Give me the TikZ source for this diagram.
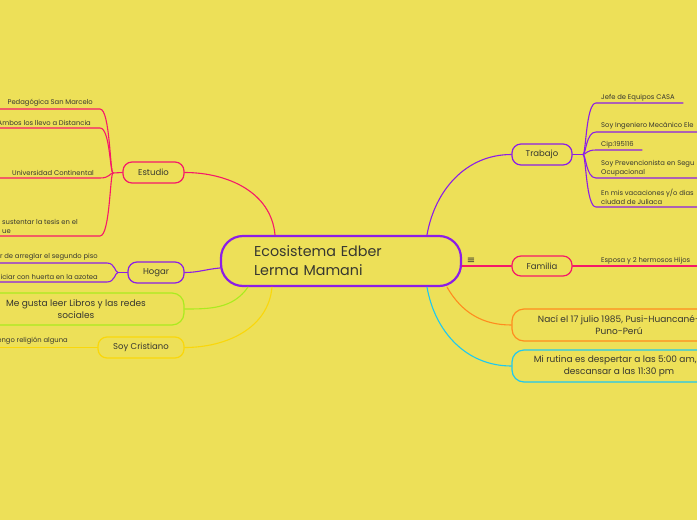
\documentclass[tikz,border=0pt]{standalone}
\usepackage{fontspec}
\setmainfont{Poppins}
\newfontfamily\symfont{DejaVu Sans}
\definecolor{mapbg}{RGB}{237,224,88}
\definecolor{maptext}{RGB}{55,55,48}
\definecolor{mappurple}{RGB}{140,30,230}
\definecolor{mappink}{RGB}{245,25,105}
\definecolor{maplime}{RGB}{170,235,30}
\definecolor{mapgold}{RGB}{250,215,10}
\definecolor{maporange}{RGB}{255,140,30}
\definecolor{mapcyan}{RGB}{30,200,240}

\tikzset{
  topic/.style={draw, rounded corners=9pt, line width=1.2pt, align=center, inner sep=0pt,
    text=maptext, font=\fontsize{8.5}{11}\selectfont},
  leaf/.style={inner sep=1pt, text=maptext, font=\fontsize{6.8}{9}\selectfont, align=left},
  link/.style={line width=1.1pt},
}

\begin{document}
\begin{tikzpicture}[x=1pt, y=-1pt, line cap=round, line join=round]
\useasboundingbox (0,0) rectangle (697,520);
\fill[mapbg] (0,0) rectangle (697,520);
\clip (0,0) rectangle (697,520);

% ---------- central topic ----------
\node[topic, draw=mappurple, line width=2.2pt, rounded corners=22pt, minimum height=50pt,
  text width=174pt, inner xsep=33pt, align=left, font=\fontsize{14.3}{19}\selectfont]
  (eco) at (341,261) {Ecosistema Edber\\Lerma Mamani};
\node[text=maptext, font=\symfont\fontsize{10}{10}\selectfont, inner sep=0pt] (notes) at (471,261) {≡};

% ---------- Estudio ----------
\node[topic, draw=mappink, minimum width=61pt, minimum height=21pt] (estudio) at (153.5,172.5) {Estudio};
\draw[link, mappink] ([xshift=-66pt]eco.north) to[out=95,in=0] (estudio.east);
\coordinate (estj) at (113,173);
\draw[link, mappink] (estudio.west) -- (estj);
\foreach \y in {109,128,178,236}
  \draw[link, mappink] (estj) .. controls (110,173) and (110,\y) .. (100,\y) -- (-5,\y);
\node[leaf, anchor=south east] (est1) at (94,108) {Pedagógica San Marcelo};
\node[leaf, anchor=south east] (est2) at (92,127) {Ambos los llevo a Distancia};
\node[leaf, anchor=south east] (est3) at (95,177) {Universidad Continental};
\node[leaf, anchor=south west] (est4) at (1,235) {sustentar la tesis en el\\ue};

% ---------- Hogar ----------
\node[topic, draw=mappurple, minimum width=56pt, minimum height=21pt] (hogar) at (156,272.5) {Hogar};
\draw[link, mappurple] ([yshift=-7pt]eco.west) to[out=185,in=0] (hogar.east);
\coordinate (hogj) at (118,272.5);
\draw[link, mappurple] (hogar.west) -- (hogj);
\foreach \y in {263,282}
  \draw[link, mappurple] (hogj) .. controls (115,272.5) and (115,\y) .. (107,\y) -- (-5,\y);
\node[leaf, anchor=south east] (hog1) at (99,262) {r de arreglar el segundo piso};
\node[leaf, anchor=south east] (hog2) at (99,281) {niciar con huerta en la azotea};

% ---------- lectura ----------
\node[topic, draw=maplime, minimum width=216pt, minimum height=32pt, rounded corners=12pt,
  font=\fontsize{9}{11.5}\selectfont] (leer) at (76,309) {Me gusta leer Libros y las redes\\sociales};
\draw[link, maplime] ([xshift=-93pt]eco.south) to[out=235,in=0] (leer.east);

% ---------- Soy Cristiano ----------
\node[topic, draw=mapgold, minimum width=86pt, minimum height=21pt] (fe) at (141,347.5) {Soy Cristiano};
\draw[link, mapgold] ([xshift=-69pt]eco.south) to[out=265,in=0] (fe.east);
\coordinate (fe1) at (-5,347.5);
\draw[link, mapgold] (fe.west) -- (fe1);
\node[leaf, anchor=south east] (fe2) at (69,346) {engo religión alguna};

% ---------- Trabajo ----------
\node[topic, draw=mappurple, minimum width=60pt, minimum height=21pt] (trabajo) at (542,154.5) {Trabajo};
\draw[link, mappurple] ([xshift=86pt]eco.north) to[out=80,in=180] (trabajo.west);
\coordinate (trabj) at (583,154.5);
\draw[link, mappurple] (trabajo.east) -- (trabj);
\foreach \y/\e in {103/683,132/705,150/642,178/705,207/705}
  \draw[link, mappurple] (trabj) .. controls (586,154.5) and (586,\y) .. (596,\y) -- (\e,\y);
\node[leaf, anchor=south west] (trab1) at (600,102) {Jefe de Equipos CASA};
\node[leaf, anchor=south west] (trab2) at (600,131) {Soy Ingeniero Mecánico Ele};
\node[leaf, anchor=south west] (trab3) at (600,149) {Cip:195116};
\node[leaf, anchor=south west] (trab4) at (600,177) {Soy Prevencionista en Segu\\Ocupacional};
\node[leaf, anchor=south west] (trab5) at (600,206) {En mis vacaciones y/o dias\\ciudad de Juliaca};

% ---------- Familia ----------
\node[topic, draw=mappink, minimum width=60pt, minimum height=20pt] (familia) at (542,266) {Familia};
\draw[link, mappink] ([yshift=-5pt]eco.east) -- (familia.west);
\coordinate (fam1) at (705,266);
\draw[link, mappink] (familia.east) -- (fam1);
\node[leaf, anchor=south west] (fam2) at (600,265) {Esposa y 2 hermosos Hijos};

% ---------- nacimiento y rutina ----------
\node[topic, draw=maporange, minimum width=214pt, minimum height=32pt, rounded corners=12pt,
  font=\fontsize{9}{11.5}\selectfont] (nacer) at (619,325) {Nací el 17 julio 1985, Pusi-Huancané-\\Puno-Perú};
\draw[link, maporange] ([xshift=106pt]eco.south) to[out=-60,in=180] (nacer.west);
\node[topic, draw=mapcyan, minimum width=214pt, minimum height=32pt, rounded corners=12pt,
  font=\fontsize{9}{11.5}\selectfont] (rutina) at (619,366) {Mi rutina es despertar a las 5:00 am, y\\descansar a las 11:30 pm};
\draw[link, mapcyan] ([xshift=86pt]eco.south) to[out=-80,in=180] (rutina.west);

\end{tikzpicture}
\end{document}
